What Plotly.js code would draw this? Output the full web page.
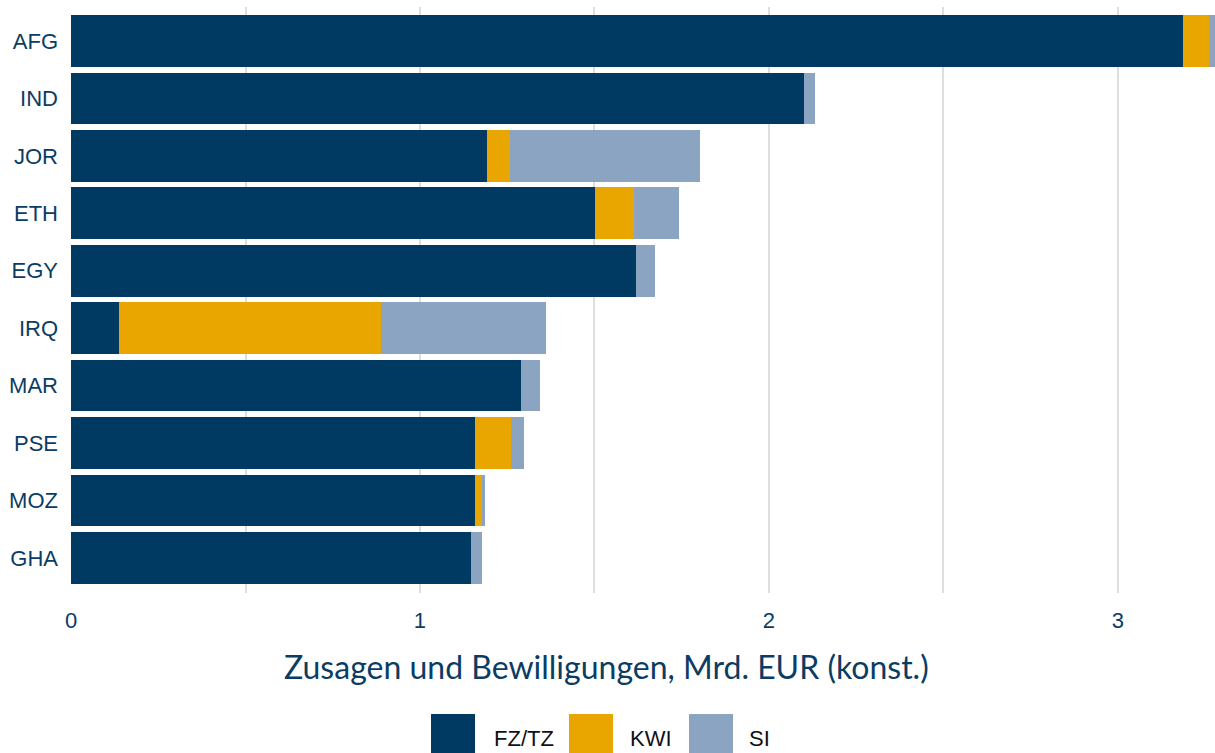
<!DOCTYPE html>
<html>
<head>
<meta charset="utf-8">
<script src="https://cdn.plot.ly/plotly-3.0.1.min.js"></script>
<style>html,body{margin:0;padding:0;background:#fff;}#chart{width:1215px;height:753px;}</style>
</head>
<body>
<div id="chart"></div>
<script>
const countries = ["AFG","IND","JOR","ETH","EGY","IRQ","MAR","PSE","MOZ","GHA"];
const fztz = [3.186, 2.100, 1.192, 1.501, 1.619, 0.138, 1.289, 1.158, 1.158, 1.146];
const kwi  = [0.075, 0.000, 0.066, 0.112, 0.000, 0.750, 0.000, 0.103, 0.020, 0.000];
const si   = [0.017, 0.032, 0.544, 0.129, 0.054, 0.473, 0.055, 0.037, 0.008, 0.032];
const seriesNames = ["FZ/TZ","KWI","SI"];
const seriesColors = ["#003a63","#e9a600","#8aa4c1"];
const xTickVals = [0,1,2,3];
const xTitle = "Zusagen und Bewilligungen, Mrd. EUR (konst.)";

const W = 1215, H = 753, L = 71, R = 0, T = 7, B = 160;
const pw = W - L - R, ph = H - T - B;
const px = x => (x - L) / pw;
const py = y => (H - B - y) / ph;

const dataSets = [fztz, kwi, si];
const traces = dataSets.map((vals, i) => ({
  type: "bar", orientation: "h", y: countries, x: vals,
  name: seriesNames[i], marker: {color: seriesColors[i], line: {width: 0}},
  showlegend: false, hoverinfo: "x+y+name"
}));

// manual legend (large swatches)
const legendPos = [[431, 492], [569, 628], [689, 747]];
const shapes = [], annotations = [];
legendPos.forEach((p, i) => {
  shapes.push({type: "rect", xref: "paper", yref: "paper",
    x0: px(p[0]), x1: px(p[0] + 44), y0: py(714), y1: py(760),
    fillcolor: seriesColors[i], line: {width: 0}, layer: "above"});
  annotations.push({xref: "paper", yref: "paper", x: px(p[1]), y: py(738),
    xanchor: "left", yanchor: "middle", text: seriesNames[i], showarrow: false,
    font: {family: "Liberation Sans, Arial, sans-serif", size: 22, color: "#111111"}});
});
annotations.push({xref: "paper", yref: "paper", x: px(606), y: py(667),
  xanchor: "center", yanchor: "middle", text: xTitle, showarrow: false,
  font: {family: "Lato, sans-serif", size: 32, color: "#0b3c64"}});

const layout = {
  width: W, height: H, barmode: "stack", bargap: 0.1,
  margin: {l: L, r: R, t: T, b: B, pad: 0},
  paper_bgcolor: "#ffffff", plot_bgcolor: "#ffffff",
  showlegend: false,
  xaxis: {
    range: [0, 3.278], tickvals: xTickVals, ticktext: xTickVals.map(String),
    showgrid: true, gridcolor: "#dedede", gridwidth: 2, zeroline: false,
    minor: {dtick: 0.5, tick0: 0, showgrid: true, gridcolor: "#dedede", gridwidth: 2},
    ticks: "", ticklabelstandoff: 12,
    tickfont: {family: "Liberation Sans, Arial, sans-serif", size: 22, color: "#0b3c64"},
    fixedrange: true
  },
  yaxis: {
    type: "category", categoryorder: "array", categoryarray: countries,
    range: [9.61, -0.592], showgrid: false, zeroline: false, ticks: "",
    ticklabelstandoff: 12,
    tickfont: {family: "Liberation Sans, Arial, sans-serif", size: 22, color: "#0b3c64"},
    fixedrange: true
  },
  shapes: shapes, annotations: annotations
};

Plotly.newPlot("chart", traces, layout, {displayModeBar: false, staticPlot: true});
</script>
</body>
</html>
